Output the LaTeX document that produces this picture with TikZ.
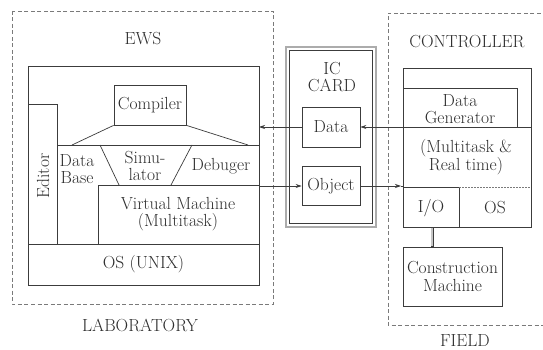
\documentclass[tikz,border=0pt]{standalone}
\usetikzlibrary{arrows.meta}
\definecolor{linec}{HTML}{3C3C3C}
\definecolor{txtc}{HTML}{2E2E2E}
\definecolor{dashc}{HTML}{7A7A7A}
\newcommand{\lblfont}{\fontsize{17.5}{17.5}\selectfont}
\tikzset{
  solidline/.style={draw=linec, line width=0.7pt},
  dashbox/.style={draw=dashc, line width=0.6pt, dash pattern=on 4pt off 2.5pt},
  blk/.style={draw=linec, line width=0.7pt, inner sep=0pt, align=center, font=\lblfont, text=txtc},
  lbl/.style={inner sep=0pt, align=center, font=\lblfont, text=txtc},
  arr/.style={draw=linec, line width=0.7pt, -{Stealth[length=6pt,width=4pt]}},
}
\begin{document}
\begin{tikzpicture}[x=1pt,y=-1pt]
\useasboundingbox (0,0) rectangle (543,350);
\fill[white] (0,0) rectangle (543,350);

% ===== EWS / LABORATORY =====
\draw[dashbox] (12,11) rectangle (273,304);
\node[lbl] (ews) at (143,39) {EWS};
\node[lbl] (lab) at (140,325) {LABORATORY};

\draw[solidline] (28,244) -- (28,66) -- (259,66) -- (259,244);
\draw[solidline] (28,104) rectangle (57,244);
\node[lbl, rotate=90] (editor) at (43,176) {Editor};
\node[blk, minimum width=72pt, minimum height=40pt] (compiler) at (150,105) {Compiler};
\draw[solidline] (compiler.south west) -- (72,145);
\draw[solidline] (compiler.south east) -- (248,145);
\draw[solidline] (57,145) -- (259,145);
\draw[solidline] (100,145) -- (119,185);
\draw[solidline] (192,145) -- (171,185);
\draw[solidline] (98,244) -- (98,185) -- (259,185);
\node[lbl] (database) at (77,169) {Data\\Base};
\node[lbl] (simulator) at (145,166) {Simu-\\lator};
\node[lbl] (debuger) at (221,166) {Debuger};
\node[lbl] (vm) at (178,214) {Virtual Machine\\(Multitask)};
\node[blk, minimum width=231pt, minimum height=41pt] (osunix) at (143.5,264.5) {OS (UNIX)};

% ===== IC CARD =====
\draw[draw=gray!65, line width=1.6pt] (286,47) rectangle (376,227);
\draw[draw=linec, line width=0.5pt] (289.5,50.5) rectangle (372.5,223.5);
\node[lbl] (iccard) at (332,77) {IC\\CARD};
\node[blk, minimum width=58pt, minimum height=40pt] (data) at (331,127) {Data};
\node[blk, minimum width=58pt, minimum height=39pt] (object) at (331,186) {Object};

% ===== CONTROLLER / FIELD =====
\draw[dashbox] (560,13) -- (388,13) -- (388,325) -- (560,325);
\node[lbl] (controller) at (467,42) {CONTROLLER};
\node[lbl] (field) at (465,341) {FIELD};
\draw[solidline] (403,68) rectangle (531,227);
\draw[solidline] (403,88) -- (517,88) -- (517,127);
\draw[solidline] (403,127) -- (531,127);
\node[lbl] (datagen) at (460,109) {Data\\Generator};
\node[lbl] (mt) at (466,157) {(Multitask \&\\Real time)};
\draw[solidline] (403,187) -- (459,187) -- (459,227);
\draw[draw=dashc, line width=0.6pt, dash pattern=on 1.5pt off 1.5pt] (459,187) -- (531,187);
\node[lbl] (io) at (431,208) {I/O};
\node[lbl] (os) at (495,208) {OS};
\node[blk, minimum width=99pt, minimum height=59pt] (cm) at (452.5,276.5) {Construction\\Machine};
\draw[draw=linec, line width=3pt] (432,227) -- (cm.north -| 432,0);
\draw[draw=gray!45, line width=1.2pt] (432,227.8) -- (432,246.2);

% ===== connectors =====
\coordinate (ewsR) at (259,127);
\coordinate (ctlL) at (403,127);
\coordinate (vmR) at (259,186);
\coordinate (ctlIn) at (401,186);
\draw[arr] (data.west) -- (ewsR);
\draw[arr] (ctlL) -- (data.east);
\draw[arr] (vmR) -- (object.west);
\draw[arr] (object.east) -- (ctlIn);
\draw[solidline] (ctlIn) -- (403,186);
\end{tikzpicture}
\end{document}
